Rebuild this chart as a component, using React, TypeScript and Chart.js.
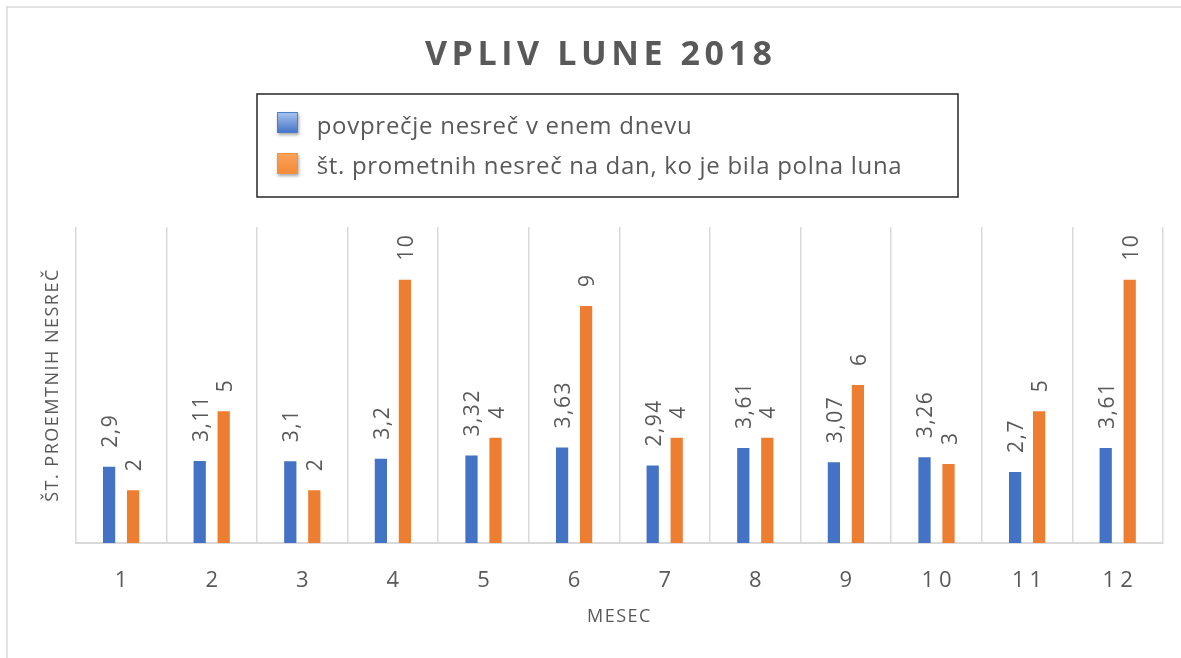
import React, { useEffect, useRef } from "react";
import { Chart, registerables } from "chart.js";

Chart.register(...registerables);

const months = ["1", "2", "3", "4", "5", "6", "7", "8", "9", "10", "11", "12"];
const avgAccidentsPerDay = [2.9, 3.11, 3.1, 3.2, 3.32, 3.63, 2.94, 3.61, 3.07, 3.26, 2.7, 3.61];
const fullMoonAccidents = [2, 5, 2, 10, 4, 9, 4, 4, 6, 3, 5, 10];
const seriesLabels = [
  "povprečje nesreč v enem dnevu",
  "št. prometnih nesreč na dan, ko je bila polna luna",
];
const seriesColors = ["#4472C4", "#ED7D31"];
const chartTitle = "VPLIV LUNE 2018";
const xAxisTitle = "MESEC";
const yAxisTitle = "ŠT. PROEMTNIH NESREČ";
const yAxisMax = 12;

const FONT = '"Open Sans", "DejaVu Sans", sans-serif';
const GRAY = "#595959";

function drawSpaced(ctx: CanvasRenderingContext2D, text: string, x: number, y: number, spacing: number, align: "center" | "left") {
  ctx.save();
  (ctx as any).letterSpacing = "0px";
  const w0 = ctx.measureText(text).width;
  const total = w0 + spacing * (text.length - 1);
  const sx = align === "center" ? x - total / 2 : x;
  (ctx as any).letterSpacing = spacing + "px";
  ctx.textAlign = "left";
  ctx.fillText(text, sx, y);
  ctx.restore();
}

function fitSpacing(ctx: CanvasRenderingContext2D, text: string, target: number) {
  ctx.save();
  (ctx as any).letterSpacing = "0px";
  const w0 = ctx.measureText(text).width;
  ctx.restore();
  return (target - w0) / (text.length - 1);
}

const decorPlugin = {
  id: "decor",
  beforeDraw(chart: any) {
    const ctx: CanvasRenderingContext2D = chart.ctx;
    ctx.save();
    ctx.fillStyle = "#ffffff";
    ctx.fillRect(0, 0, chart.width, chart.height);
    ctx.strokeStyle = "#d9d9d9";
    ctx.lineWidth = 1.5;
    ctx.beginPath();
    ctx.moveTo(7, chart.height);
    ctx.lineTo(7, 7);
    ctx.lineTo(chart.width, 7);
    ctx.stroke();
    ctx.restore();
    (ctx as any).letterSpacing = "1.5px";
  },
  afterDatasetsDraw(chart: any) {
    const ctx: CanvasRenderingContext2D = chart.ctx;
    ctx.save();
    ctx.font = `21px ${FONT}`;
    ctx.fillStyle = GRAY;
    (ctx as any).letterSpacing = "1.5px";
    ctx.textAlign = "left";
    ctx.textBaseline = "alphabetic";
    chart.data.datasets.forEach((ds: any, di: number) => {
      const meta = chart.getDatasetMeta(di);
      meta.data.forEach((el: any, i: number) => {
        const txt = String(ds.data[i]).replace(".", ",");
        ctx.save();
        ctx.translate(el.x, el.y - 19);
        ctx.rotate(-Math.PI / 2);
        ctx.fillText(txt, 0, 8);
        ctx.restore();
      });
    });
    ctx.restore();
  },
  afterDraw(chart: any) {
    const ctx: CanvasRenderingContext2D = chart.ctx;
    (ctx as any).letterSpacing = "0px";
    ctx.save();
    ctx.fillStyle = GRAY;
    ctx.textBaseline = "alphabetic";

    // Title
    ctx.font = `bold 34px ${FONT}`;
    const tSp = fitSpacing(ctx, chartTitle, 347);
    drawSpaced(ctx, chartTitle, 598.4, 65, tSp, "center");

    // X tick labels
    const xs = chart.scales.x;
    ctx.font = `22px ${FONT}`;
    months.forEach((m, i) => {
      drawSpaced(ctx, m, xs.getPixelForValue(i), 587, 5, "center");
    });

    // Legend box
    ctx.strokeStyle = "#262626";
    ctx.lineWidth = 1.5;
    ctx.strokeRect(257, 94, 701, 103);

    const markerTops = [112, 153];
    const baselines = [134, 174];
    const targets = [375, 585];
    const grads = [
      ["#aac5f0", "#4472c4", "#4f7fc6"],
      ["#fba25a", "#f38a36", "#f0923f"],
    ];
    seriesLabels.forEach((lbl, i) => {
      const top = markerTops[i];
      ctx.save();
      ctx.shadowColor = "rgba(0,0,0,0.35)";
      ctx.shadowBlur = 3;
      ctx.shadowOffsetX = 1;
      ctx.shadowOffsetY = 2;
      const g = ctx.createLinearGradient(0, top, 0, top + 21);
      g.addColorStop(0, grads[i][0]);
      g.addColorStop(1, grads[i][1]);
      ctx.fillStyle = g;
      ctx.fillRect(277, top, 21, 21);
      ctx.restore();
      ctx.save();
      ctx.strokeStyle = grads[i][2];
      ctx.lineWidth = 1;
      ctx.strokeRect(277.5, top + 0.5, 20, 20);
      ctx.restore();

      ctx.font = `24px ${FONT}`;
      ctx.fillStyle = GRAY;
      const sp = fitSpacing(ctx, lbl, targets[i]);
      drawSpaced(ctx, lbl, 316.7, baselines[i], sp, "left");
    });
    ctx.restore();
  },
};

export default function App() {
  const canvasRef = useRef<HTMLCanvasElement | null>(null);

  useEffect(() => {
    const canvas = canvasRef.current;
    if (!canvas) return;
    const chart = new Chart(canvas, {
      type: "bar",
      data: {
        labels: months,
        datasets: [
          {
            label: seriesLabels[0],
            data: avgAccidentsPerDay,
            backgroundColor: seriesColors[0],
            categoryPercentage: 0.53,
            barPercentage: 0.51,
          },
          {
            label: seriesLabels[1],
            data: fullMoonAccidents,
            backgroundColor: seriesColors[1],
            categoryPercentage: 0.53,
            barPercentage: 0.51,
          },
        ],
      },
      options: {
        responsive: false,
        animation: false,
        devicePixelRatio: 1,
        layout: { padding: { left: 42.2, right: 18, top: 227, bottom: 30.2 } },
        plugins: {
          legend: { display: false },
          title: { display: false },
          tooltip: { enabled: false },
        },
        scales: {
          x: {
            grid: { display: true, offset: true, color: "#d9d9d9", lineWidth: 1.5, drawTicks: false },
            border: { display: true, color: "#d9d9d9", width: 2 },
            ticks: { display: false },
            title: {
              display: true,
              text: xAxisTitle,
              color: GRAY,
              font: { family: FONT, size: 18 },
              padding: { top: 63.2, bottom: 0 },
            },
          },
          y: {
            min: 0,
            max: yAxisMax,
            grid: { display: false, drawTicks: false },
            border: { display: false },
            ticks: { display: false },
            title: {
              display: true,
              text: yAxisTitle,
              color: GRAY,
              font: { family: FONT, size: 18 },
              padding: { top: 0, bottom: 12 },
            },
          },
        },
      },
      plugins: [decorPlugin],
    } as any);
    return () => chart.destroy();
  }, []);

  return (
    <div style={{ position: "fixed", left: 0, top: 0, width: 1181, height: 658, background: "#fff" }}>
      <canvas ref={canvasRef} width={1181} height={658} style={{ display: "block" }} />
    </div>
  );
}
